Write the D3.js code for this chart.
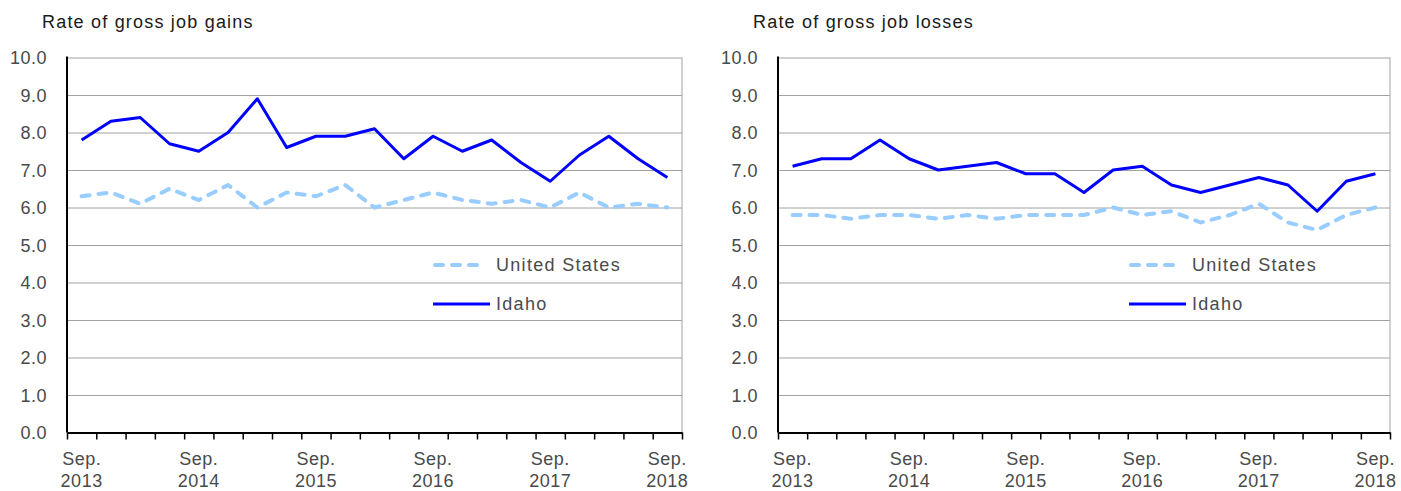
<!DOCTYPE html>
<html>
<head>
<meta charset="utf-8">
<script src="https://cdn.jsdelivr.net/npm/d3@7/dist/d3.min.js"></script>
<style>
  html, body { margin: 0; padding: 0; background: #fff; }
  svg { display: block; }
  text { font-family: "Liberation Sans", Arial, sans-serif; }
</style>
</head>
<body>
<svg id="chart" width="1401" height="491"></svg>
<script>
// ---- Data ----
const quarters = [
  "Sep. 2013","Dec. 2013","Mar. 2014","Jun. 2014",
  "Sep. 2014","Dec. 2014","Mar. 2015","Jun. 2015",
  "Sep. 2015","Dec. 2015","Mar. 2016","Jun. 2016",
  "Sep. 2016","Dec. 2016","Mar. 2017","Jun. 2017",
  "Sep. 2017","Dec. 2017","Mar. 2018","Jun. 2018",
  "Sep. 2018"
];
const labeledQuarters = ["Sep. 2013","Sep. 2014","Sep. 2015","Sep. 2016","Sep. 2017","Sep. 2018"];
const yTicks = [0,1,2,3,4,5,6,7,8,9,10];
const seriesNames = ["United States", "Idaho"];

const gainsUS    = [6.3,6.4,6.1,6.5,6.2,6.6,6.0,6.4,6.3,6.6,6.0,6.2,6.4,6.2,6.1,6.2,6.0,6.4,6.0,6.1,6.0];
const gainsIdaho = [7.8,8.3,8.4,7.7,7.5,8.0,8.9,7.6,7.9,7.9,8.1,7.3,7.9,7.5,7.8,7.2,6.7,7.4,7.9,7.3,6.8];
const lossesUS    = [5.8,5.8,5.7,5.8,5.8,5.7,5.8,5.7,5.8,5.8,5.8,6.0,5.8,5.9,5.6,5.8,6.1,5.6,5.4,5.8,6.0];
const lossesIdaho = [7.1,7.3,7.3,7.8,7.3,7.0,7.1,7.2,6.9,6.9,6.4,7.0,7.1,6.6,6.4,6.6,6.8,6.6,5.9,6.7,6.9];

// ---- Layout ----
const svg = d3.select("#chart");
svg.append("rect").attr("width",1401).attr("height",491).attr("fill","#fff");

const yTop = 57.5, yBottom = 432.5;
const panels = [
  { title: "Rate of gross job gains",  x0: 67,  x1: 682,  titleX: 42,  legX: 433,  us: gainsUS,  id: gainsIdaho },
  { title: "Rate of gross job losses", x0: 778, x1: 1390, titleX: 753, legX: 1129, us: lossesUS, id: lossesIdaho }
];

const colUS = "#99ccff", colID = "#0000ff";
const gridCol = "#a0a4a0";
const labCol = "#4a4a4a";

panels.forEach(p => {
  const g = svg.append("g");
  const x = d3.scaleBand().domain(quarters).range([p.x0, p.x1]).padding(0);
  const xTick = d3.scaleLinear().domain([0, quarters.length]).range([p.x0, p.x1]);
  const y = d3.scaleLinear().domain([0, 10]).range([yBottom, yTop]);
  const cx = q => x(q) + x.bandwidth() / 2;

  // gridlines
  g.append("g")
    .attr("transform", `translate(${p.x0},0)`)
    .call(d3.axisLeft(y).tickValues(yTicks.filter(v => v > 0)).tickSize(-(p.x1 - p.x0)).tickFormat(""))
    .call(s => s.select(".domain").remove())
    .call(s => s.selectAll(".tick line").attr("stroke", gridCol).attr("stroke-width", 1));

  // right border
  g.append("line").attr("x1", p.x1).attr("x2", p.x1).attr("y1", yTop).attr("y2", yBottom)
    .attr("stroke", gridCol).attr("stroke-width", 1);

  // y tick labels
  g.append("g")
    .attr("transform", `translate(${p.x0},0)`)
    .call(d3.axisLeft(y).tickValues(yTicks).tickSize(0).tickPadding(20).tickFormat(d3.format(".1f")))
    .call(s => s.select(".domain").remove())
    .call(s => s.selectAll("text")
      .attr("fill", labCol).style("font-size", "18px").style("letter-spacing", "0.5px")
      .attr("font-family", null).attr("dy", "0.36em"));

  // y axis line
  g.append("line").attr("x1", p.x0).attr("x2", p.x0).attr("y1", yTop - 1).attr("y2", yBottom)
    .attr("stroke", "#000").attr("stroke-width", 2);

  // bottom axis with ticks at band boundaries
  g.append("g")
    .attr("transform", `translate(0,${yBottom})`)
    .call(d3.axisBottom(xTick).tickValues(d3.range(quarters.length + 1)).tickSize(7).tickSizeOuter(0).tickFormat(""))
    .call(s => s.select(".domain").attr("stroke", "#000").attr("stroke-width", 2))
    .call(s => s.selectAll(".tick line").attr("stroke", "#000").attr("stroke-width", 1.5));

  // x labels
  const lab = g.append("g").selectAll("text").data(labeledQuarters).join("text")
    .attr("x", d => cx(d)).attr("y", 465)
    .attr("text-anchor", "middle").attr("fill", labCol)
    .style("font-size", "18px").style("letter-spacing", "0.5px");
  lab.append("tspan").attr("x", d => cx(d)).attr("dy", 0).text(d => d.split(" ")[0]);
  lab.append("tspan").attr("x", d => cx(d)).attr("dy", 22).text(d => d.split(" ")[1]);

  // title
  g.append("text").attr("x", p.titleX).attr("y", 28).text(p.title)
    .attr("fill", "#1a1a1a").style("font-size", "18px").style("letter-spacing", "1.2px");

  // lines
  const line = d3.line().x((d, i) => cx(quarters[i])).y(d => y(d));
  g.append("path").datum(p.us).attr("d", line)
    .attr("fill", "none").attr("stroke", colUS).attr("stroke-width", 4)
    .attr("stroke-dasharray", "8,9").attr("stroke-linecap", "round");
  g.append("path").datum(p.id).attr("d", line)
    .attr("fill", "none").attr("stroke", colID).attr("stroke-width", 3)
    .attr("stroke-linejoin", "round");

  // legend
  const leg = g.append("g");
  leg.append("line").attr("x1", p.legX + 2).attr("x2", p.legX + 52).attr("y1", 265).attr("y2", 265)
    .attr("stroke", colUS).attr("stroke-width", 4).attr("stroke-dasharray", "8,9").attr("stroke-linecap", "round");
  leg.append("text").attr("x", p.legX + 63).attr("y", 271).text(seriesNames[0])
    .attr("fill", labCol).style("font-size", "18px").style("letter-spacing", "1.3px");
  leg.append("line").attr("x1", p.legX).attr("x2", p.legX + 57).attr("y1", 304).attr("y2", 304)
    .attr("stroke", colID).attr("stroke-width", 3);
  leg.append("text").attr("x", p.legX + 63).attr("y", 310).text(seriesNames[1])
    .attr("fill", labCol).style("font-size", "18px").style("letter-spacing", "1.3px");
});
</script>
</body>
</html>
